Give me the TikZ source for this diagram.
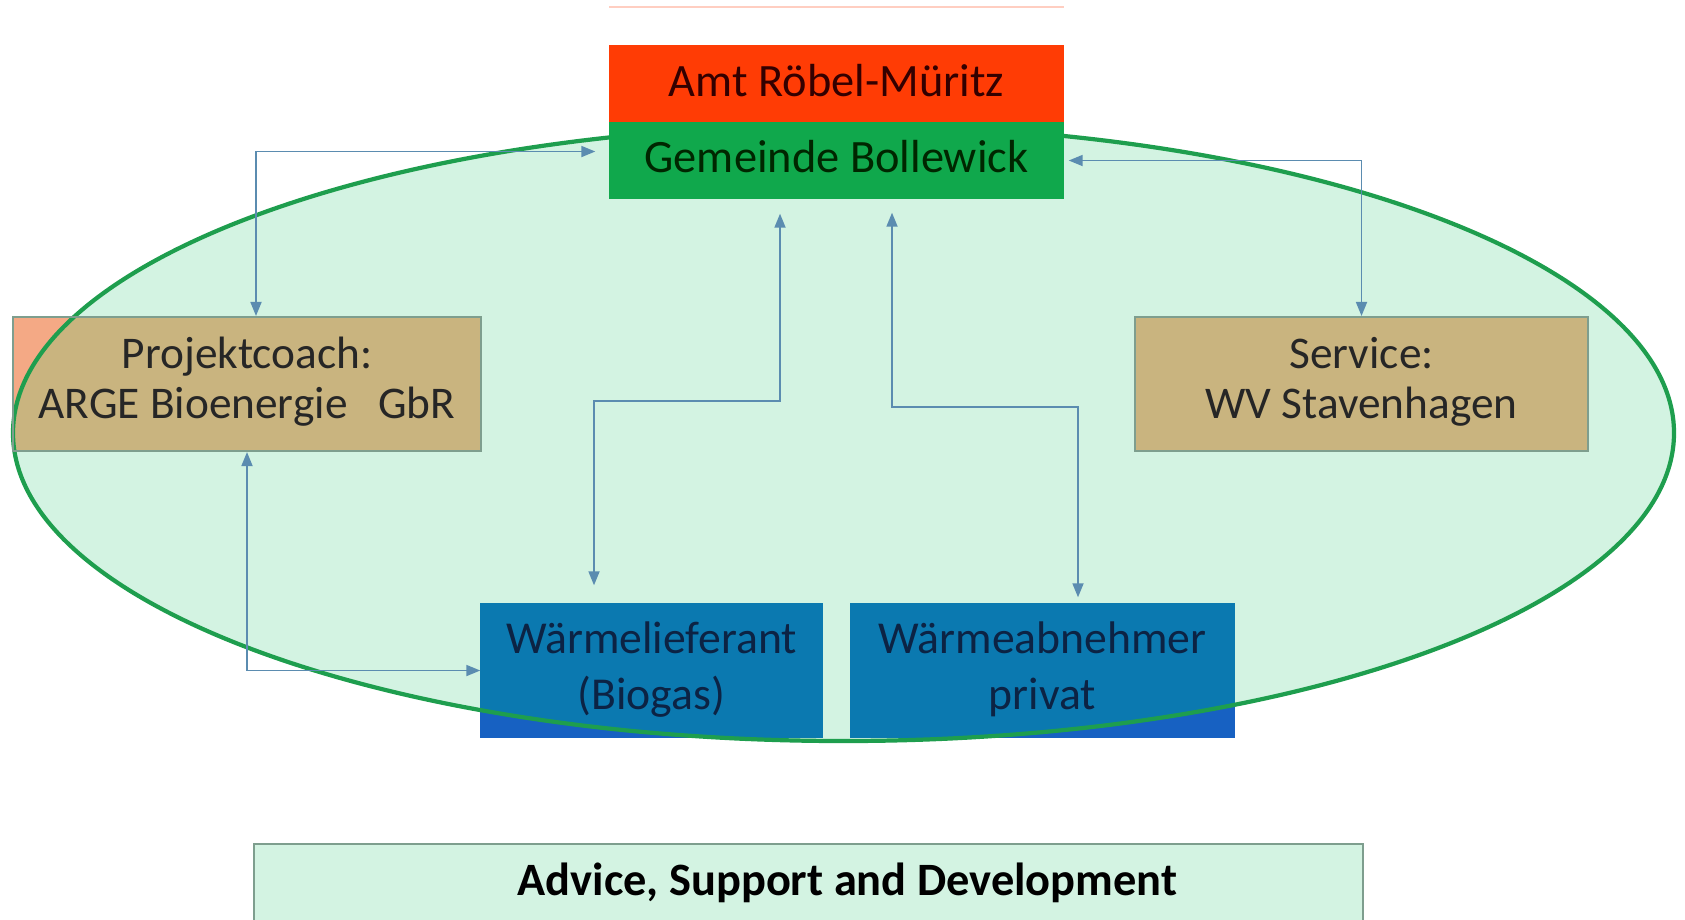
\documentclass[tikz,border=0pt]{standalone}
\usepackage{fontspec}
\setmainfont{Carlito}
\usetikzlibrary{arrows.meta}

\definecolor{amtred}{HTML}{FF3C05}
\definecolor{gemgreen}{HTML}{10A84C}
\definecolor{mint}{HTML}{D3F3E2}
\definecolor{ringgreen}{HTML}{1E9E4E}
\definecolor{coachtan}{HTML}{C9B47F}
\definecolor{coachsalmon}{HTML}{F4A985}
\definecolor{heatblue}{HTML}{0B79B0}
\definecolor{heatdeep}{HTML}{1761C2}
\definecolor{edgegrey}{HTML}{7E9E8E}
\definecolor{linkblue}{HTML}{5B8CB0}
\definecolor{navytext}{HTML}{0C2344}

\pgfdeclarelayer{fills}
\pgfdeclarelayer{ring}
\pgfsetlayers{fills,ring,main}

\begin{document}
\begin{tikzpicture}[x=0.1mm, y=-0.1mm,
  role/.style={draw=edgegrey, line width=0.6pt, align=center, inner sep=0pt,
    text=black!85, font=\fontsize{12.9}{14.3}\selectfont},
  heat/.style={align=center, inner sep=0pt, text=navytext,
    font=\fontsize{13}{16}\selectfont},
  head/.style={inner sep=0pt, minimum width=45.5mm, minimum height=7.7mm,
    font=\fontsize{13.2}{16}\selectfont},
  link/.style={draw=linkblue, line width=0.5pt,
    {Triangle[length=1.4mm,width=1.1mm]}-{Triangle[length=1.4mm,width=1.1mm]}}
]
\useasboundingbox (0,0) rectangle (1685,919);
\coordinate (ringcentre) at (843.5,433);

% the actors
\node[role, minimum width=46.8mm, minimum height=13.4mm] (coach) at (247,384)
  {Projektcoach:\\ARGE Bioenergie\ \ \ GbR\rule[-1.2mm]{0pt}{0pt}};
\node[role, minimum width=45.3mm, minimum height=13.4mm] (service) at (1361.5,384)
  {Service:\\WV Stavenhagen\rule[-1.2mm]{0pt}{0pt}};
\node[heat, minimum width=34.1mm, minimum height=13.3mm] (supplier) at (651.5,670.5)
  {Wärmelieferant\\(Biogas)\rule[-1mm]{0pt}{0pt}};
\node[heat, minimum width=38.3mm, minimum height=13.3mm] (consumer) at (1042.5,670.5)
  {Wärmeabnehmer\\privat\rule[-1mm]{0pt}{0pt}};
\node[head, fill=amtred, text=black!80!red] (amt) at (836.5,83.5)
  {Amt Röbel-Müritz\rule[-0.7mm]{0pt}{0pt}};
\node[head, fill=gemgreen, text=black!85!green] (gemeinde) at (836.5,160.5)
  {Gemeinde Bollewick\rule[-0.9mm]{0pt}{0pt}};
\node[draw=edgegrey, fill=mint, line width=0.6pt, minimum width=110.9mm,
  minimum height=7.8mm, inner sep=0pt, font=\fontsize{13.2}{16}\selectfont\bfseries]
  (advice) at (808.5,883) {\hspace*{7.8mm}Advice, Support and Development};

% box fills, tinted inside the ring
\begin{pgfonlayer}{fills}
  \fill[mint] (ringcentre) ellipse [x radius=830.5, y radius=308];
  \fill[coachsalmon] (coach.north west) rectangle (coach.south east);
  \fill[heatdeep] (supplier.north west) rectangle (supplier.south east);
  \fill[heatdeep] (consumer.north west) rectangle (consumer.south east);
  \begin{scope}
    \clip (ringcentre) ellipse [x radius=830.5, y radius=308];
    \fill[coachtan] (coach.north west) rectangle (coach.south east);
    \fill[coachtan] (service.north west) rectangle (service.south east);
    \fill[heatblue] (supplier.north west) rectangle (supplier.south east);
    \fill[heatblue] (consumer.north west) rectangle (consumer.south east);
  \end{scope}
\end{pgfonlayer}
\begin{pgfonlayer}{ring}
  \draw[ringgreen, line width=1.2pt] (ringcentre) ellipse [x radius=830.5, y radius=308];
\end{pgfonlayer}
\draw[amtred!25, line width=0.6pt] (609,7) -- (1064,7);

% links
\draw[link, shorten >=1.3mm] ([xshift=0.9mm]coach.north) |- ([yshift=0.9mm]gemeinde.west);
\draw[link, shorten >=0.4mm] (service.north) |- (gemeinde.east);
\draw[link, shorten <=1.4mm, shorten >=1.8mm] ([xshift=-5.65mm]gemeinde.south)
  -- ++(0,201) -| ([xshift=-5.75mm]supplier.north);
\draw[link, shorten <=1.3mm, shorten >=0.6mm] ([xshift=5.55mm]gemeinde.south)
  -- ++(0,207) -| ([xshift=3.55mm]consumer.north);
\draw[link] (coach.south) |- (supplier.west);
\end{tikzpicture}
\end{document}
